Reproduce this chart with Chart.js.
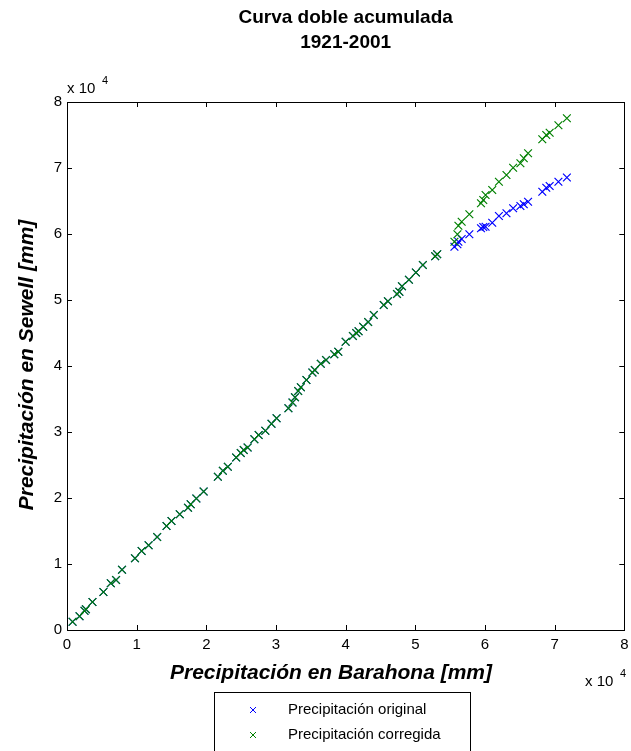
<!DOCTYPE html>
<html>
<head>
<meta charset="utf-8">
<script src="https://cdn.jsdelivr.net/npm/chart.js@4/dist/chart.umd.min.js"></script>
<style>
  html, body { margin: 0; padding: 0; background: #fff; }
  #wrap { width: 631px; height: 751px; }
</style>
</head>
<body>
<div id="wrap"><canvas id="curva"></canvas></div>
<script>
// Barahona (x) and Sewell (y) cumulative precipitation, mm
const barahona = [
  800, 1800, 2514, 2714, 3657, 5229, 6286, 7043, 7900, 9757,
  10714, 11714, 12943, 14286, 15000, 16186, 17371, 17757, 18571, 19614,
  21657, 22371, 23086, 24286, 24943, 25371, 25929, 26900, 27514, 28471,
  29357, 30086, 31786, 32371, 32729, 33186, 33571, 34371, 35229, 35571,
  36429, 37186, 38371, 38943, 40000, 41043, 41514, 41857, 42514, 43229,
  44043, 45471, 46071, 47371, 47714, 48086, 49086, 50086, 51086, 52857,
  53143, 55614, 56043, 56186, 56657, 57757, 59429, 59757, 60086, 61043,
  62000, 63086, 64043, 65086, 65571, 66186, 68229, 68800, 69286, 70543,
  71757
];
const sewellOriginal = [
  1258, 2076, 2924, 3136, 4242, 5758, 7076, 7576, 9136, 10864,
  11970, 12833, 14091, 15758, 16515, 17530, 18530, 19045, 19924, 20985,
  23227, 24136, 24742, 26136, 26818, 27273, 27652, 28894, 29545, 30197,
  31258, 32091, 33591, 34470, 35258, 36212, 36773, 37879, 39015, 39394,
  40348, 40909, 41788, 42167, 43682, 44545, 45000, 45258, 45955, 46667,
  47727, 49242, 49818, 50909, 51258, 52076, 53076, 54167, 55303, 56636,
  56924, 58076, 58439, 58833, 59242, 59955, 60864, 61061, 61106, 61712,
  62727, 63136, 63894, 64242, 64500, 64894, 66409, 67015, 67273, 67924,
  68561
];
const sewellCorregida = [
  1258, 2076, 2924, 3136, 4242, 5758, 7076, 7576, 9136, 10864,
  11970, 12833, 14091, 15758, 16515, 17530, 18530, 19045, 19924, 20985,
  23227, 24136, 24742, 26136, 26818, 27273, 27652, 28894, 29545, 30197,
  31258, 32091, 33591, 34470, 35258, 36212, 36773, 37879, 39015, 39394,
  40348, 40909, 41788, 42167, 43682, 44545, 45000, 45258, 45955, 46667,
  47727, 49242, 49818, 50909, 51258, 52076, 53076, 54167, 55303, 56636,
  56924, 58833, 59955, 61258, 61864, 62985, 64652, 65152, 65909, 66667,
  67924, 68939, 70045, 70712, 71470, 72227, 74348, 75000, 75348, 76470,
  77530
];
const tickValues = [0, 10000, 20000, 30000, 40000, 50000, 60000, 70000, 80000];
const seriesNames = ['Precipitación original', 'Precipitación corregida'];
const seriesColors = ['#0000ff', '#008000'];

const toPoints = ys => barahona.map((x, i) => ({ x: x, y: ys[i] }));

const FONT = 'Arial, "Liberation Sans", sans-serif';

// MATLAB-like frame, inward ticks, title, labels and boxed legend
const matlabLook = {
  id: 'matlabLook',
  afterDraw(chart) {
    const { ctx, chartArea: a, scales } = chart;
    const xs = scales.x, ys = scales.y;
    ctx.save();
    ctx.strokeStyle = '#000';
    ctx.lineWidth = 1;
    ctx.strokeRect(Math.round(a.left) + 0.5, Math.round(a.top) + 0.5,
      Math.round(a.right - a.left), Math.round(a.bottom - a.top));
    ctx.beginPath();
    tickValues.forEach(v => {
      const px = Math.round(xs.getPixelForValue(v)) + 0.5;
      ctx.moveTo(px, a.bottom); ctx.lineTo(px, a.bottom - 5);
      ctx.moveTo(px, a.top); ctx.lineTo(px, a.top + 5);
      const py = Math.round(ys.getPixelForValue(v)) + 0.5;
      ctx.moveTo(a.left, py); ctx.lineTo(a.left + 5, py);
      ctx.moveTo(a.right, py); ctx.lineTo(a.right - 5, py);
    });
    ctx.stroke();

    ctx.fillStyle = '#000';
    ctx.textAlign = 'center';
    ctx.textBaseline = 'middle';
    ctx.font = 'bold 19px ' + FONT;
    const cx = (a.left + a.right) / 2;
    ctx.fillText('Curva doble acumulada', cx, 18);
    ctx.fillText('1921-2001', cx, 43);

    // exponent labels
    ctx.textAlign = 'left';
    ctx.textBaseline = 'alphabetic';
    ctx.font = '15px ' + FONT;
    ctx.fillText('x 10', 67, 93);
    ctx.fillText('x 10', 585, 686);
    ctx.font = '11px ' + FONT;
    ctx.fillText('4', 102, 84);
    ctx.fillText('4', 620, 677);

    // axis titles
    ctx.font = 'italic bold 21px ' + FONT;
    ctx.textAlign = 'center';
    ctx.textBaseline = 'middle';
    ctx.fillText('Precipitación en Barahona [mm]', 331, 673);
    ctx.save();
    ctx.translate(27, 365);
    ctx.rotate(-Math.PI / 2);
    ctx.fillText('Precipitación en Sewell [mm]', 0, 0);
    ctx.restore();

    // legend box
    ctx.fillStyle = '#fff';
    ctx.fillRect(214, 692, 256, 60);
    ctx.strokeRect(214.5, 692.5, 256, 60);
    ctx.font = '15px ' + FONT;
    ctx.textAlign = 'left';
    seriesNames.forEach((name, i) => {
      const y = 710 + i * 25;
      ctx.strokeStyle = seriesColors[i];
      ctx.beginPath();
      ctx.moveTo(250, y - 3); ctx.lineTo(256, y + 3);
      ctx.moveTo(250, y + 3); ctx.lineTo(256, y - 3);
      ctx.stroke();
      ctx.fillStyle = '#000';
      ctx.fillText(name, 288, y);
    });
    ctx.restore();
  }
};

new Chart(document.getElementById('curva'), {
  type: 'scatter',
  data: {
    datasets: [
      {
        label: seriesNames[0],
        data: toPoints(sewellOriginal),
        pointStyle: 'crossRot',
        pointRadius: 5.5,
        borderWidth: 1.2,
        borderColor: seriesColors[0],
        backgroundColor: seriesColors[0],
        order: 1
      },
      {
        label: seriesNames[1],
        data: toPoints(sewellCorregida),
        pointStyle: 'crossRot',
        pointRadius: 5.5,
        borderWidth: 1.2,
        borderColor: seriesColors[1],
        backgroundColor: seriesColors[1],
        order: 0
      }
    ]
  },
  options: {
    responsive: true,
    maintainAspectRatio: false,
    animation: false,
    layout: { padding: { left: 0, right: 3, top: 102, bottom: 0 } },
    plugins: {
      legend: { display: false },
      title: { display: false },
      tooltip: { enabled: false }
    },
    scales: {
      x: {
        type: 'linear',
        min: 0, max: 80000,
        afterBuildTicks: s => { s.ticks = tickValues.map(v => ({ value: v })); },
        afterFit: s => { s.height = 121; s.paddingLeft = 0; s.paddingRight = 0; },
        grid: { display: false, drawTicks: false },
        border: { display: false },
        ticks: {
          color: '#000',
          padding: 6,
          maxRotation: 0,
          font: { family: FONT, size: 15 },
          callback: v => String(v / 10000)
        }
      },
      y: {
        type: 'linear',
        min: 0, max: 80000,
        afterBuildTicks: s => { s.ticks = tickValues.map(v => ({ value: v })); },
        afterFit: s => { s.width = 67; s.paddingTop = 0; s.paddingBottom = 0; },
        grid: { display: false, drawTicks: false },
        border: { display: false },
        ticks: {
          color: '#000',
          padding: 5,
          font: { family: FONT, size: 15 },
          callback: v => String(v / 10000)
        }
      }
    }
  },
  plugins: [matlabLook]
});
</script>
</body>
</html>
